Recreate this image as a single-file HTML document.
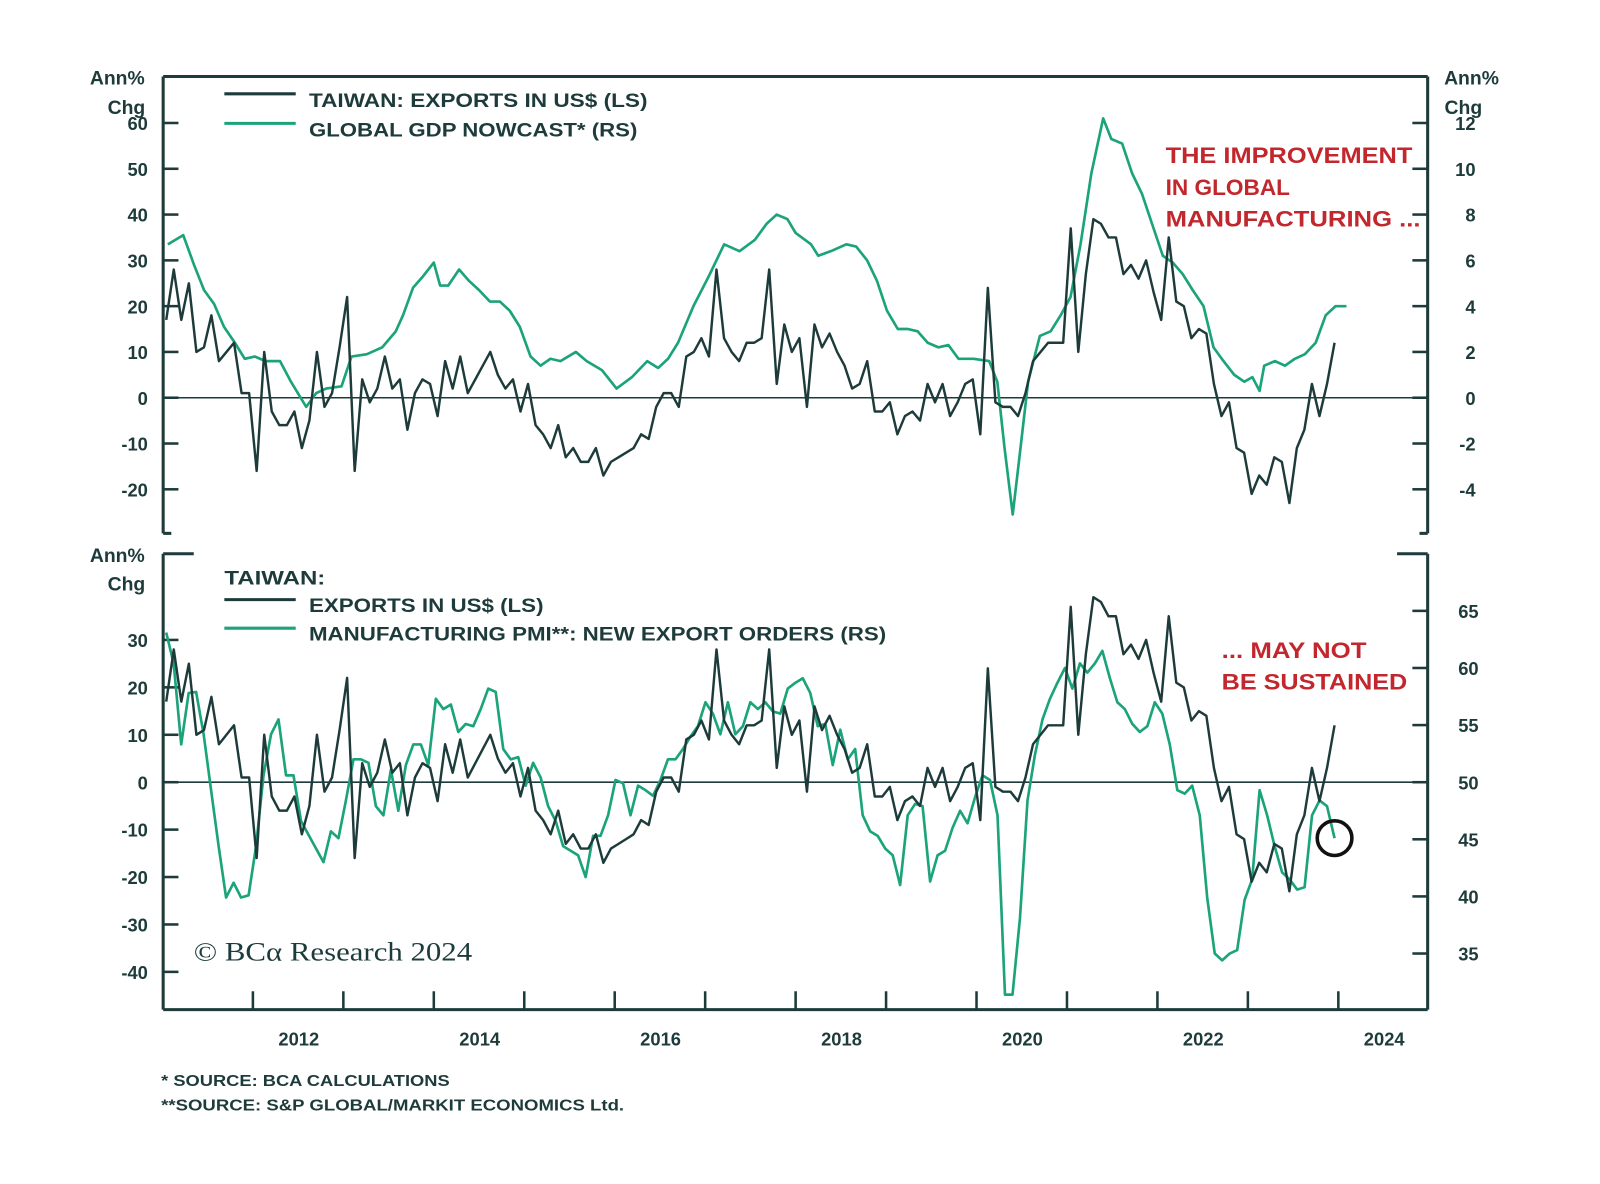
<!DOCTYPE html>
<html><head><meta charset="utf-8"><style>
html,body{margin:0;padding:0;background:#fff;width:1600px;height:1184px;overflow:hidden}
svg{display:block}
text{font-family:"Liberation Sans",sans-serif;font-weight:bold;fill:#1e3b3b}
</style></head><body>
<svg id="chart" width="1600" height="1184" viewBox="0 0 1569 1161" preserveAspectRatio="none" xmlns="http://www.w3.org/2000/svg"></svg>
<script>
// ---- data ----
const exportsUS = [17,28,17,25,10,11,18,8,10,12,1,1,-16,10,-3,-6,-6,-3,-11,-5,10,-2,1,11,22,-16,4,-1,2,9,2,4,-7,1,4,3,-4,8,2,9,1,4,7,10,5,2,4,-3,3,-6,-8,-11,-6,-13,-11,-14,-14,-11,-17,-14,-13,-12,-11,-8,-9,-2,1,1,-2,9,10,13,9,28,13,10,8,12,12,13,28,3,16,10,13,-2,16,11,14,10,7,2,3,8,-3,-3,-1,-8,-4,-3,-5,3,-1,3,-4,-1,3,4,-8,24,-1,-2,-2,-4,1,8,10,12,12,12,37,10,27,39,38,35,35,27,29,26,30,23,17,35,21,20,13,15,14,3,-4,-1,-11,-12,-21,-17,-19,-13,-14,-23,-11,-7,3,-4,3,12];
const gdpDates = [2011.06,2011.23,2011.35,2011.46,2011.57,2011.68,2011.80,2011.91,2012.02,2012.14,2012.30,2012.42,2012.59,2012.70,2012.81,2012.98,2013.09,2013.26,2013.43,2013.58,2013.66,2013.77,2013.88,2014.00,2014.07,2014.16,2014.28,2014.39,2014.50,2014.62,2014.73,2014.84,2014.95,2015.07,2015.18,2015.29,2015.40,2015.57,2015.69,2015.86,2016.02,2016.19,2016.36,2016.48,2016.59,2016.70,2016.87,2017.04,2017.21,2017.38,2017.55,2017.68,2017.79,2017.91,2018.00,2018.17,2018.25,2018.39,2018.56,2018.67,2018.79,2018.90,2019.01,2019.13,2019.24,2019.35,2019.46,2019.58,2019.69,2019.80,2019.97,2020.14,2020.23,2020.31,2020.40,2020.48,2020.57,2020.70,2020.82,2020.93,2021.04,2021.15,2021.27,2021.40,2021.49,2021.61,2021.72,2021.83,2021.94,2022.06,2022.17,2022.28,2022.39,2022.51,2022.62,2022.73,2022.85,2022.96,2023.05,2023.13,2023.18,2023.30,2023.41,2023.52,2023.63,2023.75,2023.86,2023.97,2024.09];
const gdpNowcast = [6.7,7.1,5.8,4.7,4.1,3.1,2.4,1.7,1.8,1.6,1.6,0.7,-0.4,0.2,0.4,0.5,1.8,1.9,2.2,2.9,3.6,4.8,5.3,5.9,4.9,4.9,5.6,5.1,4.7,4.2,4.2,3.8,3.1,1.8,1.4,1.7,1.6,2.0,1.6,1.2,0.4,0.9,1.6,1.3,1.7,2.4,4.0,5.3,6.7,6.4,6.9,7.6,8.0,7.8,7.2,6.7,6.2,6.4,6.7,6.6,6.0,5.1,3.8,3.0,3.0,2.9,2.4,2.2,2.3,1.7,1.7,1.6,0.7,-2.2,-5.1,-2.4,0.7,2.7,2.9,3.6,4.4,6.7,9.8,12.2,11.3,11.1,9.8,8.9,7.6,6.2,5.9,5.4,4.7,4.0,2.2,1.6,1.0,0.7,0.9,0.3,1.4,1.6,1.4,1.7,1.9,2.4,3.6,4.0,4.0];
const pmiExportOrders = [63.1,60.4,53.3,57.8,57.9,54.2,49.3,44.4,39.9,41.2,39.9,40.1,44.4,50.6,54.2,55.5,50.6,50.6,46.6,45.4,44.2,43.0,45.7,45.1,48.4,52.0,52.0,51.7,47.9,47.1,51.1,47.5,51.5,53.3,53.3,51.5,57.3,56.4,56.8,54.4,55.1,54.9,56.4,58.2,57.9,52.9,52.0,52.2,49.7,51.7,50.4,47.9,46.6,44.4,44.0,43.6,41.7,45.3,45.3,47.1,50.2,49.9,47.1,49.7,49.3,48.8,50.2,52.0,52.0,52.9,54.0,54.9,57.0,56.0,54.2,57.0,54.2,54.9,57.0,56.4,57.0,56.2,56.0,58.2,58.7,59.1,57.8,54.9,55.1,51.5,54.6,52.0,52.9,47.1,45.7,45.3,44.2,43.6,41.0,47.1,48.1,47.9,41.3,43.6,44.0,46.0,47.5,46.4,48.7,50.6,50.2,47.1,31.4,31.4,38.1,48.4,52.4,55.5,57.3,58.7,60.0,58.2,60.4,59.6,60.4,61.5,59.1,57.0,56.4,55.1,54.4,54.9,57.0,56.0,53.3,49.3,49.0,49.7,47.1,39.9,35.0,34.4,35.0,35.3,39.7,41.5,49.3,47.1,44.4,42.1,41.5,40.6,40.8,47.1,48.4,47.9,45.1];
const topLeftTicks = [60,50,40,30,20,10,0,-10,-20];
const topRightTicks = [12,10,8,6,4,2,0,-2,-4];
const botLeftTicks = [30,20,10,0,-10,-20,-30,-40];
const botRightTicks = [65,60,55,50,45,40,35];
const yearLabels = [2012,2014,2016,2018,2020,2022,2024];
const yearTicks = [2012,2013,2014,2015,2016,2017,2018,2019,2020,2021,2022,2023,2024];

// ---- scales ----
const X0=160,X1=1400;
const x = t => 248 + (t-2012)*88.7;
const yTL = v => 390 - v*4.49;
const yTR = v => 390 - v*22.45;
const yBL = v => 767 - v*4.65;
const yBR = v => 767 - (v-50)*11.2;
const expDate = i => 2011 + (i+0.5)/12;

const svg=document.getElementById('chart');
const NS='http://www.w3.org/2000/svg';
const INK='#1e3b3b', GREEN='#1ba37a', RED='#c1272d';
function mk(tag,attrs,parent){const e=document.createElementNS(NS,tag);for(const k in attrs)e.setAttribute(k,attrs[k]);(parent||svg).appendChild(e);return e;}
function txt(s,xx,yy,size,anchor,fill,name,len){const e=mk('text',{x:xx,y:yy,'font-size':size,'text-anchor':anchor||'start'});if(fill)e.style.fill=fill;e.textContent=s;
if(len){e.setAttribute('textLength',len);e.setAttribute('lengthAdjust','spacingAndGlyphs');}


return e;}
function line(x1,y1,x2,y2,w,c,name){const e=mk('line',{x1,y1,x2,y2,stroke:c||INK,'stroke-width':w||2});


return e;}
function poly(pts,c,w,name){const e=mk('polyline',{points:pts.map(p=>p[0].toFixed(1)+','+p[1].toFixed(1)).join(' '),fill:'none',stroke:c,'stroke-width':w,'stroke-linejoin':'round'});


return e;}

// ---- top panel frame ----
line(X0,75,X1,75,3,INK,'top-panel-border');
line(X0,75,X0,523,3,INK,'top-left-axis');
line(X1,75,X1,523,3,INK,'top-right-axis');
line(X0,523,X0+8,523,3,INK,'top-left-bracket');
line(X1-8,523,X1,523,3,INK,'top-right-bracket');
line(X0,390,X1,390,1.5,INK,'top-zero-line');
topLeftTicks.forEach(v=>{line(X0,yTL(v),X0+15,yTL(v),2.5,INK,'top-left-tick');txt(String(v),145,yTL(v)+7,18,'end',null,'top-left-tick-label');});
topRightTicks.forEach(v=>{line(X1-15,yTR(v),X1,yTR(v),2.5,INK,'top-right-tick');txt(String(v),1447,yTR(v)+7,18,'end',null,'top-right-tick-label');});
txt('Ann%',115,83,19,'middle',null,'top-left-unit');txt('Chg',124,112,19,'middle',null,'top-left-unit-2');
txt('Ann%',1443,83,19,'middle',null,'top-right-unit');txt('Chg',1435,112,19,'middle',null,'top-right-unit-2');
line(220,92,290,92,3,INK,'legend-exports-swatch');
txt('TAIWAN: EXPORTS IN US$ (LS)',303,105,19,'start',null,'legend-exports-label',332);
line(220,121,290,121,3,GREEN,'legend-gdp-swatch');
txt('GLOBAL GDP NOWCAST* (RS)',303,134,19,'start',null,'legend-gdp-label',322);
txt('THE IMPROVEMENT',1143,160,22,'start',RED,'annotation-improvement-1',242);
txt('IN GLOBAL',1143,191,22,'start',RED,'annotation-improvement-2',122);
txt('MANUFACTURING ...',1143,222,22,'start',RED,'annotation-improvement-3',250);
poly(gdpDates.map((t,i)=>[x(t),yTR(gdpNowcast[i])]),GREEN,2.6,'gdp-nowcast-line');
poly(exportsUS.map((v,i)=>[x(expDate(i)),yTL(v)]),INK,2.4,'exports-line-top');

// ---- bottom panel frame ----
line(X0,543,X0,990,3,INK,'bottom-left-axis');
line(X1,543,X1,990,3,INK,'bottom-right-axis');
line(X0,990,X1,990,3,INK,'x-axis');
line(X0,543,X0+30,543,3,INK,'bottom-left-bracket');
line(X1-30,543,X1,543,3,INK,'bottom-right-bracket');
line(X0,767,X1,767,1.5,INK,'bottom-zero-line');
botLeftTicks.forEach(v=>{line(X0,yBL(v),X0+15,yBL(v),2.5,INK,'bottom-left-tick');txt(String(v),145,yBL(v)+7,18,'end',null,'bottom-left-tick-label');});
botRightTicks.forEach(v=>{line(X1-15,yBR(v),X1,yBR(v),2.5,INK,'bottom-right-tick');txt(String(v),1450,yBR(v)+7,18,'end',null,'bottom-right-tick-label');});
yearTicks.forEach(t=>line(x(t),972,x(t),990,2.5,INK,'x-tick'));
yearLabels.forEach(t=>txt(String(t),x(t)+45,1025,18,'middle',null,'x-tick-label'));
txt('Ann%',115,551,19,'middle',null,'bottom-left-unit');txt('Chg',124,579,19,'middle',null,'bottom-left-unit-2');
txt('TAIWAN:',220,573,19,'start',null,'legend-bottom-title',99);
line(220,588,290,588,3,INK,'legend-exports-swatch-bottom');
txt('EXPORTS IN US$ (LS)',303,600,19,'start',null,'legend-exports-label-bottom',230);
line(220,616,290,616,3,GREEN,'legend-pmi-swatch');
txt('MANUFACTURING PMI**: NEW EXPORT ORDERS (RS)',303,628,19,'start',null,'legend-pmi-label',566);
txt('... MAY NOT',1198,645,22,'start',RED,'annotation-sustained-1',142);
txt('BE SUSTAINED',1198,676,22,'start',RED,'annotation-sustained-2',182);
poly(pmiExportOrders.map((v,i)=>[x(2011+(i+0.5)*(155/12)/(pmiExportOrders.length-1)),yBR(v)]),GREEN,2.6,'pmi-export-orders-line');
poly(exportsUS.map((v,i)=>[x(expDate(i)),yBL(v)]),INK,2.4,'exports-line-bottom');
const c=mk('circle',{cx:x(expDate(155)),cy:yBR(pmiExportOrders[pmiExportOrders.length-1]),r:17,fill:'none',stroke:'#111',"stroke-width":3.5});


const br=txt('© BCα Research 2024',190,942,26,'start',null,'copyright',273);
br.style.fontFamily='"Liberation Serif",serif';br.style.fontWeight='normal';
txt('* SOURCE: BCA CALCULATIONS',158,1065,15,'start',null,'footnote-1',283);
txt('**SOURCE: S&P GLOBAL/MARKIT ECONOMICS Ltd.',158,1089,15,'start',null,'footnote-2',454);
</script>
</body></html>
